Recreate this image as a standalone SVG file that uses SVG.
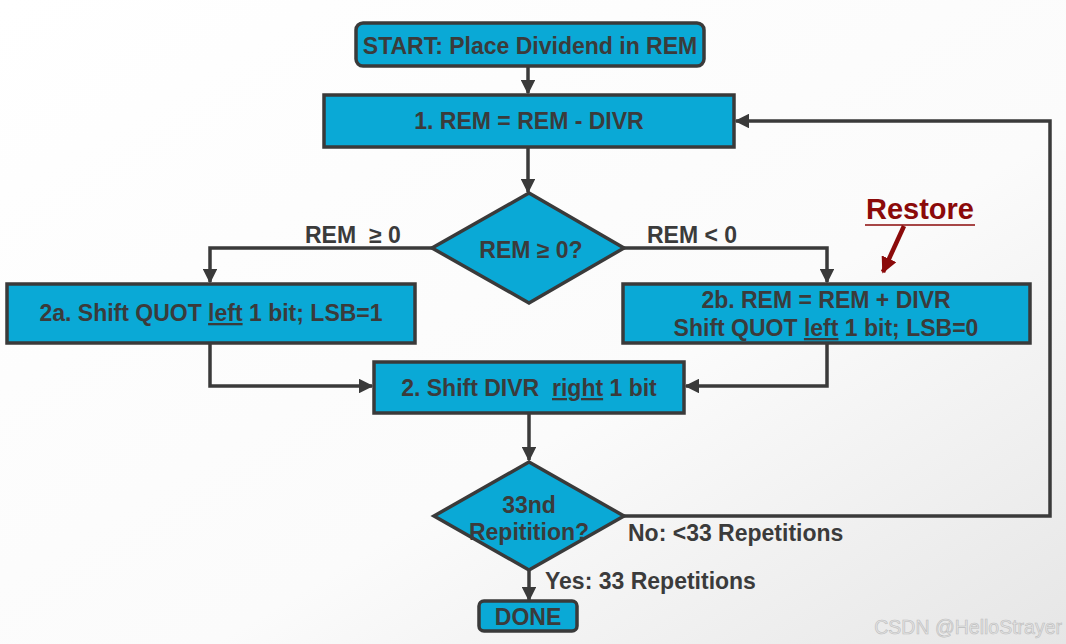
<svg xmlns="http://www.w3.org/2000/svg" width="1066" height="644" viewBox="0 0 1066 644">
<defs>
<linearGradient id="bg" x1="0" y1="0" x2="1" y2="1">
<stop offset="0" stop-color="#ffffff"/>
<stop offset="0.6" stop-color="#fbfbfb"/>
<stop offset="1" stop-color="#e6e6e6"/>
</linearGradient>
<marker id="ah" viewBox="0 0 10 10" refX="9" refY="5" markerWidth="4.2" markerHeight="4.2" orient="auto" markerUnits="strokeWidth">
<path d="M0,0 L10,5 L0,10 z" fill="#3a3a3a"/>
</marker>
<marker id="ahr" viewBox="0 0 10 10" refX="9" refY="5" markerWidth="3.6" markerHeight="3.6" orient="auto" markerUnits="strokeWidth">
<path d="M0,0 L10,5 L0,10 z" fill="#8b0a0a"/>
</marker>
<style>
.box{fill:#0aa9d6;stroke:#3a3a3a;stroke-width:3.5}
.t{font-family:"Liberation Sans",Arial,sans-serif;font-weight:bold;font-size:23px;fill:#3b3b3b;text-anchor:middle}
.lbl{font-family:"Liberation Sans",Arial,sans-serif;font-weight:bold;font-size:23px;fill:#3b3b3b}
.ln{fill:none;stroke:#3a3a3a;stroke-width:3.5}
.u{text-decoration:underline}
</style>
</defs>
<rect width="1066" height="644" fill="url(#bg)"/>
<g id="connectors">
<path class="ln" d="M528,66 V93" marker-end="url(#ah)"/>
<path class="ln" d="M528,147 V192" marker-end="url(#ah)"/>
<path class="ln" d="M432,248 H210 V282" marker-end="url(#ah)"/>
<path class="ln" d="M624,248 H827 V282" marker-end="url(#ah)"/>
<path class="ln" d="M210,343 V386 H372" marker-end="url(#ah)"/>
<path class="ln" d="M827,343 V386 H686" marker-end="url(#ah)"/>
<path class="ln" d="M529,413 V460" marker-end="url(#ah)"/>
<path class="ln" d="M624,516 H1050 V121 H736" marker-end="url(#ah)"/>
<path class="ln" d="M529,570 V600" marker-end="url(#ah)"/>
<path d="M904,226 L883,272" fill="none" stroke="#8b0a0a" stroke-width="4.5" marker-end="url(#ahr)"/>
<text class="lbl" x="305" y="243" xml:space="preserve">REM  ≥ 0</text>
<text class="lbl" x="647" y="243">REM &lt; 0</text>
<text class="lbl" x="628" y="541">No: &lt;33 Repetitions</text>
<text class="lbl" x="545" y="589">Yes: 33 Repetitions</text>
</g>
<g id="restore">
<text x="920" y="219" font-family="Liberation Sans,Arial,sans-serif" font-weight="bold" font-size="29" fill="#8b0a0a" text-anchor="middle">Restore</text>
<line x1="865" y1="225" x2="975" y2="225" stroke="#8b0a0a" stroke-width="1.5"/>
</g>
<g id="start">
<rect class="box" x="356" y="23" width="348" height="43" rx="7"/>
<text class="t" x="530" y="54">START: Place Dividend in REM</text>
</g>
<g id="step1">
<rect class="box" x="324" y="95" width="410" height="52"/>
<text class="t" x="529" y="129">1. REM = REM - DIVR</text>
</g>
<g id="decision1">
<polygon class="box" points="529,193 624,248 529,303 432,248"/>
<text class="t" x="531" y="258">REM ≥ 0?</text>
</g>
<g id="step2a">
<rect class="box" x="7" y="284" width="408" height="59"/>
<text class="t" x="211" y="321">2a. Shift QUOT <tspan class="u">left</tspan> 1 bit; LSB=1</text>
</g>
<g id="step2b">
<rect class="box" x="623" y="284" width="407" height="59"/>
<text class="t" x="826" y="308">2b. REM = REM + DIVR</text>
<text class="t" x="826" y="336">Shift QUOT <tspan class="u">left</tspan> 1 bit; LSB=0</text>
</g>
<g id="step2">
<rect class="box" x="374" y="362" width="310" height="51"/>
<text class="t" x="529" y="396" xml:space="preserve">2. Shift DIVR  <tspan class="u">right</tspan> 1 bit</text>
</g>
<g id="decision2">
<polygon class="box" points="529,462 624,516 529,570 434,516"/>
<text class="t" x="529" y="513">33nd</text>
<text class="t" x="529" y="540">Repitition?</text>
</g>
<g id="done">
<rect class="box" x="479" y="601" width="98" height="30" rx="5"/>
<text class="t" x="528" y="625" font-size="25">DONE</text>
</g>
<text x="1062" y="634" font-family="Liberation Sans,Arial,sans-serif" font-size="19.5" fill="#e4e4e4" stroke="#bdbdbd" stroke-width="0.6" text-anchor="end">CSDN @HelloStrayer</text>
</svg>
